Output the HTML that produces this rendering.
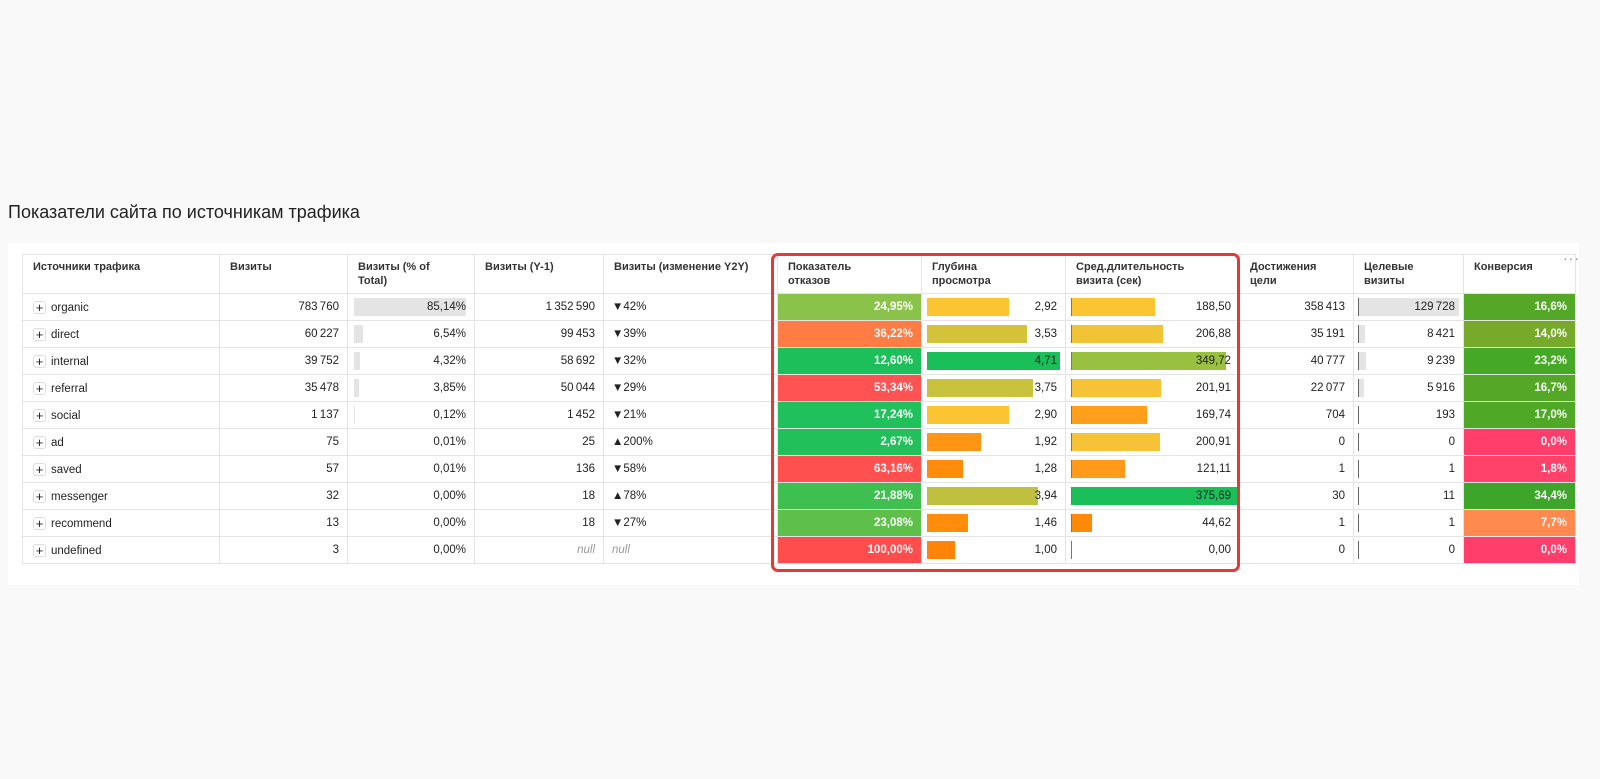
<!DOCTYPE html>
<html><head><meta charset="utf-8">
<style>
body{margin:0;width:1600px;height:779px;background:#f9f9f9;font-family:"Liberation Sans","Noto Sans CJK SC",sans-serif;position:relative;overflow:hidden;color:#222}
#title{position:absolute;left:8px;top:202px;font-size:18px;color:#222}
#panel{position:absolute;left:8px;top:243px;width:1571px;height:342px;background:#fff}
table{position:absolute;left:22px;top:254px;border-collapse:collapse;table-layout:fixed;font-size:11.5px}
td,th{border:1px solid #e4e4e4;height:26px;padding:0 8px;white-space:nowrap;position:relative;overflow:hidden}
th{height:33px;text-align:left;vertical-align:top;font-weight:bold;font-size:11px;color:#333;padding:5px 10px 0;white-space:nowrap;line-height:14px}
td.n{text-align:right}
.bar{position:absolute;top:4px;height:18px}
.v{position:relative}
.plus{display:inline-block;width:11px;height:11px;border:1px solid #ddd;border-radius:3px;text-align:center;line-height:11px;font-size:13px;margin:0 5px 0 10px;vertical-align:-1px}
#redbox{position:absolute;left:771px;top:253px;width:463px;height:313px;border:3px solid #e53935;border-radius:7px}
#dots{position:absolute;left:1563px;top:250px;font-size:14px;color:#888;letter-spacing:1px}
</style></head><body>
<div id="title">Показатели сайта по источникам трафика</div>
<div id="panel"></div>
<div id="dots">···</div>
<table id="tbl">
<colgroup><col style="width:197px"><col style="width:128px"><col style="width:127px"><col style="width:129px"><col style="width:174px"><col style="width:144px"><col style="width:144px"><col style="width:174px"><col style="width:114px"><col style="width:110px"><col style="width:112px"></colgroup>
<thead><tr>
<th>Источники трафика</th>
<th>Визиты</th>
<th>Визиты (% of<br>Total)</th>
<th>Визиты (Y-1)</th>
<th>Визиты (изменение Y2Y)</th>
<th>Показатель<br>отказов</th>
<th>Глубина<br>просмотра</th>
<th>Сред.длительность<br>визита (сек)</th>
<th>Достижения<br>цели</th>
<th>Целевые<br>визиты</th>
<th>Конверсия</th>
</tr></thead><tbody id="tb"></tbody></table>
<div id="redbox"></div>
<script>
const sources=["organic","direct","internal","referral","social","ad","saved","messenger","recommend","undefined"];
const visits=[783760,60227,39752,35478,1137,75,57,32,13,3];
const share=[85.14,6.54,4.32,3.85,0.12,0.01,0.01,0.00,0.00,0.00];
const visitsPrev=[1352590,99453,58692,50044,1452,25,136,18,18,null];
const change=[-42,-39,-32,-29,-21,200,-58,78,-27,null];
const bounce=[24.95,36.22,12.60,53.34,17.24,2.67,63.16,21.88,23.08,100.00];
const depth=[2.92,3.53,4.71,3.75,2.90,1.92,1.28,3.94,1.46,1.00];
const duration=[188.50,206.88,349.72,201.91,169.74,200.91,121.11,375.69,44.62,0.00];
const goals=[358413,35191,40777,22077,704,0,1,30,1,0];
const goalVisits=[129728,8421,9239,5916,193,0,1,11,1,0];
const conversion=[16.6,14.0,23.2,16.7,17.0,0.0,1.8,34.4,7.7,0.0];
const bounceColors=["#8bc34a","#ff7c44","#1cbf5a","#ff5252","#20c05c","#22c05a","#ff5050","#3fbf4f","#5ebf4a","#ff4c4c"];
const depthColors=["#fbc531","#d4c23a","#1bbf5a","#c8c23c","#fbc531","#ff9514","#ff8c0a","#c0c040","#ff8c0a","#ff8408"];
const durColors=["#fbc531","#f3c336","#9ac042","#f5c335","#ff9f1a","#f5c335","#ff9a1a","#1bbf5a","#ff8a08","#ff8a08"];
const convColors=["#55a827","#77a92a","#46a827","#55a827","#50a827","#ff3e6c","#ff426a","#3da52a","#ff8a50","#ff3e6c"];
const fmtInt=v=>String(v).replace(/\B(?=(\d{3})+(?!\d))/g,"\u2009");
const fmtDec=(v,d)=>v.toFixed(d).replace(".",",");
const xShare=v=>v/85.14*112;
const xDepth=v=>v*28.2;
const xDur=v=>v*0.44;
const xGoal=v=>v/129728*100;
const tb=document.getElementById('tb');
function cell(tr,name,html,cls){const td=document.createElement('td');


if(cls)td.className=cls;td.innerHTML=html;tr.appendChild(td);return td;}
sources.forEach((s,i)=>{
 const tr=document.createElement('tr');
 
 
 const c0=cell(tr,'source-'+s,'<span class="plus">+</span>'+s,'');c0.style.padding='0';
 cell(tr,'visits-'+s,fmtInt(visits[i]),'n');
 cell(tr,'share-'+s,'<div class="bar" style="left:6px;background:#e4e4e4;width:'+xShare(share[i])+'px"></div><span class="v">'+fmtDec(share[i],2)+'%</span>','n');
 cell(tr,'visits-prev-'+s,visitsPrev[i]==null?'<i style="color:#999">null</i>':fmtInt(visitsPrev[i]),'n');
 cell(tr,'change-'+s,change[i]==null?'<i style="color:#999">null</i>':(change[i]<0?'▼':'▲')+Math.abs(change[i])+'%','');
 const b=cell(tr,'bounce-'+s,fmtDec(bounce[i],2)+'%','n');b.style.background=bounceColors[i];b.style.color='#fff';b.style.fontWeight='bold';
 cell(tr,'depth-'+s,'<div class="bar" style="left:5px;background:'+depthColors[i]+';width:'+xDepth(depth[i])+'px"></div><span class="v">'+fmtDec(depth[i],2)+'</span>','n');
 cell(tr,'duration-'+s,'<div class="bar" style="left:5px;background:'+durColors[i]+';width:'+xDur(duration[i])+'px;border-left:1px solid #777"></div><span class="v">'+fmtDec(duration[i],2)+'</span>','n');
 cell(tr,'goals-'+s,fmtInt(goals[i]),'n');
 cell(tr,'goal-visits-'+s,'<div class="bar" style="left:4px;background:#e4e4e4;width:'+xGoal(goalVisits[i])+'px;border-left:1px solid #666"></div><span class="v">'+fmtInt(goalVisits[i])+'</span>','n');
 const cv=cell(tr,'conversion-'+s,fmtDec(conversion[i],1)+'%','n');cv.style.background=convColors[i];cv.style.color='#fff';cv.style.fontWeight='bold';
 tb.appendChild(tr);
});
</script>
</body></html>
